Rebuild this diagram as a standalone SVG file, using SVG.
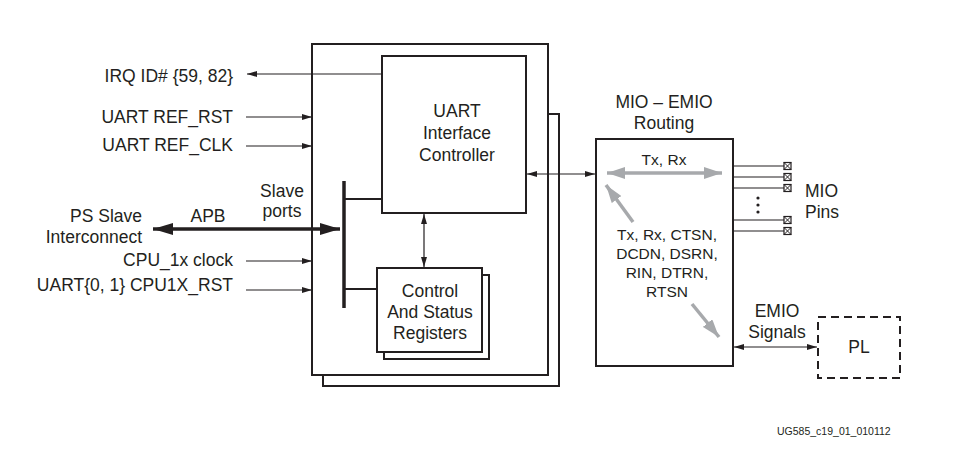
<svg xmlns="http://www.w3.org/2000/svg" width="954" height="451" viewBox="0 0 954 451">
<defs>
<style>
.t{font-family:"Liberation Sans",Arial,sans-serif;font-size:17.5px;fill:#231f20}
.s{font-family:"Liberation Sans",Arial,sans-serif;font-size:15.5px;fill:#231f20}
.box{fill:#fff;stroke:#231f20;stroke-width:2}
.ln{stroke:#231f20;stroke-width:1.2;fill:none}
.gr{stroke:#a7a9ac;stroke-width:3.5;fill:none}
</style>
<marker id="a" viewBox="0 0 10 6" refX="10" refY="3" markerWidth="10" markerHeight="6" markerUnits="userSpaceOnUse" orient="auto-start-reverse"><path d="M0,0 L10,3 L0,6 Z" fill="#231f20"/></marker>
<marker id="ab" viewBox="0 0 20 12" refX="20" refY="6" markerWidth="20" markerHeight="12" markerUnits="userSpaceOnUse" orient="auto-start-reverse"><path d="M0,0 L20,6 L0,12 Z" fill="#231f20"/></marker>
<marker id="ag" viewBox="0 0 18 12" refX="18" refY="6" markerWidth="18" markerHeight="12" markerUnits="userSpaceOnUse" orient="auto-start-reverse"><path d="M0,0 L18,6 L0,12 Z" fill="#a7a9ac"/></marker>
<g id="pin"><rect x="0" y="-3.5" width="7" height="7" fill="#fff" stroke="#231f20" stroke-width="1.2"/><path d="M0,-3.5 L7,3.5 M7,-3.5 L0,3.5" stroke="#231f20" stroke-width="1"/></g>
</defs>
<rect width="954" height="451" fill="#fff"/>

<g id="uart-block">
<rect class="box" x="323" y="114" width="236" height="272"/>
<rect class="box" x="312" y="44" width="236" height="331"/>
</g>

<g id="controller">
<rect class="box" x="382" y="56" width="144" height="157"/>
<text class="t" x="457" y="117" text-anchor="middle">UART</text>
<text class="t" x="457" y="139" text-anchor="middle">Interface</text>
<text class="t" x="457" y="161" text-anchor="middle">Controller</text>
</g>

<g id="registers">
<rect class="box" x="384" y="275" width="105" height="84"/>
<rect class="box" x="377" y="268" width="105" height="84"/>
<text class="t" x="430" y="297" text-anchor="middle">Control</text>
<text class="t" x="430" y="318" text-anchor="middle">And Status</text>
<text class="t" x="430" y="339" text-anchor="middle">Registers</text>
</g>

<g id="mio-emio">
<rect class="box" x="596" y="139" width="137" height="227"/>
<text class="t" x="664" y="108" text-anchor="middle">MIO – EMIO</text>
<text class="t" x="664" y="129" text-anchor="middle">Routing</text>
<text class="s" x="664" y="165" text-anchor="middle">Tx, Rx</text>
<text class="s" x="667" y="240" text-anchor="middle">Tx, Rx, CTSN,</text>
<text class="s" x="667" y="259" text-anchor="middle">DCDN, DSRN,</text>
<text class="s" x="667" y="278" text-anchor="middle">RIN, DTRN,</text>
<text class="s" x="667" y="297" text-anchor="middle">RTSN</text>
<line class="gr" x1="607" y1="173" x2="722" y2="173" marker-start="url(#ag)" marker-end="url(#ag)"/>
<line class="gr" x1="633" y1="222" x2="606" y2="185" marker-end="url(#ag)"/>
<line class="gr" x1="692" y1="304" x2="719" y2="337" marker-end="url(#ag)"/>
</g>

<g id="mio-pins">
<line class="ln" x1="733" y1="166" x2="784" y2="166"/>
<line class="ln" x1="733" y1="177" x2="784" y2="177"/>
<line class="ln" x1="733" y1="188" x2="784" y2="188"/>
<line class="ln" x1="733" y1="220" x2="784" y2="220"/>
<line class="ln" x1="733" y1="231" x2="784" y2="231"/>
<use href="#pin" x="784" y="166"/>
<use href="#pin" x="784" y="177"/>
<use href="#pin" x="784" y="188"/>
<use href="#pin" x="784" y="220"/>
<use href="#pin" x="784" y="231"/>
<circle cx="758" cy="198" r="1.6" fill="#231f20"/>
<circle cx="758" cy="205" r="1.6" fill="#231f20"/>
<circle cx="758" cy="212" r="1.6" fill="#231f20"/>
<text class="t" x="805" y="197">MIO</text>
<text class="t" x="805" y="218">Pins</text>
</g>

<g id="pl">
<rect x="818" y="317" width="82" height="61" fill="#fff" stroke="#231f20" stroke-width="2" stroke-dasharray="8,5"/>
<text class="t" x="859" y="353" text-anchor="middle">PL</text>
</g>

<g id="labels">
<text class="t" x="233" y="82" text-anchor="end">IRQ ID# {59, 82}</text>
<text class="t" x="233" y="123" text-anchor="end">UART REF_RST</text>
<text class="t" x="233" y="151" text-anchor="end">UART REF_CLK</text>
<text class="t" x="282" y="197" text-anchor="middle">Slave</text>
<text class="t" x="282" y="217" text-anchor="middle">ports</text>
<text class="t" x="208" y="222" text-anchor="middle">APB</text>
<text class="t" x="142" y="222" text-anchor="end">PS Slave</text>
<text class="t" x="142" y="243" text-anchor="end">Interconnect</text>
<text class="t" x="233" y="266" text-anchor="end">CPU_1x clock</text>
<text class="t" x="233" y="291" text-anchor="end">UART{0, 1} CPU1X_RST</text>
<text class="t" x="777" y="317" text-anchor="middle">EMIO</text>
<text class="t" x="777" y="338" text-anchor="middle">Signals</text>
<text x="777" y="435" font-family="Liberation Sans,Arial,sans-serif" font-size="10.5" fill="#231f20">UG585_c19_01_010112</text>
</g>

<g id="connectors">
<line class="ln" x1="382" y1="74" x2="247" y2="74" marker-end="url(#a)"/>
<line class="ln" x1="246" y1="117" x2="312" y2="117" marker-end="url(#a)"/>
<line class="ln" x1="246" y1="146" x2="312" y2="146" marker-end="url(#a)"/>
<line class="ln" x1="246" y1="261" x2="312" y2="261" marker-end="url(#a)"/>
<line class="ln" x1="246" y1="290" x2="312" y2="290" marker-end="url(#a)"/>
<line x1="153" y1="229" x2="340" y2="229" stroke="#231f20" stroke-width="3.5" marker-start="url(#ab)" marker-end="url(#ab)"/>
<line x1="344" y1="181" x2="344" y2="308" stroke="#231f20" stroke-width="3.5"/>
<line x1="344" y1="199" x2="382" y2="199" stroke="#231f20" stroke-width="2"/>
<line x1="344" y1="289" x2="377" y2="289" stroke="#231f20" stroke-width="2"/>
<line class="ln" x1="424" y1="214" x2="424" y2="267" marker-start="url(#a)" marker-end="url(#a)"/>
<line class="ln" x1="527" y1="174" x2="595" y2="174" marker-start="url(#a)" marker-end="url(#a)"/>
<line class="ln" x1="734" y1="347" x2="817" y2="347" marker-start="url(#a)" marker-end="url(#a)"/>
</g>
</svg>
